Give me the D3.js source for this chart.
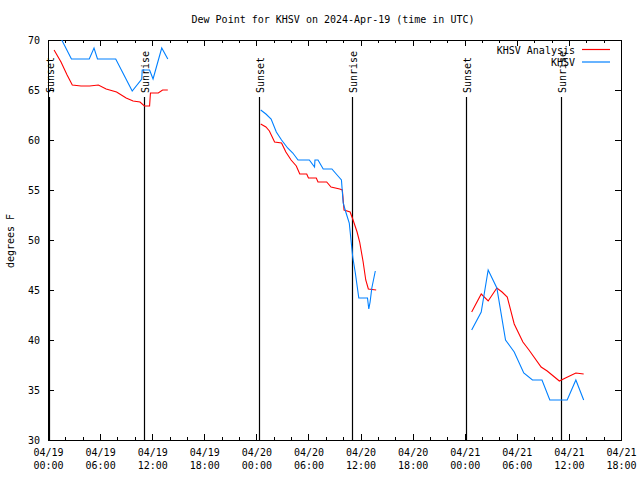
<!DOCTYPE html>
<html><head><meta charset="utf-8">
<script src="https://cdn.jsdelivr.net/npm/d3@7"></script>
<style>
body{margin:0;background:#fff;}
text{font-family:"DejaVu Sans Mono",monospace;font-size:10px;fill:#000;}
</style></head><body>
<svg id="c" width="640" height="480"></svg>
<script>
// hours since 2024-04-19 00:00 UTC
const analysisHours = [0.7,1.5,2.2,2.8,3.8,4.8,5.8,6.7,7.9,9.0,9.8,10.6,11.1,11.7,11.8,12.7,13.2,13.8,18,
  24.5,25.1,25.5,26.1,26.9,27.4,28.0,28.6,29.0,29.8,30.0,30.9,31.1,32.1,32.6,33.6,33.9,34.1,34.8,35.1,35.6,35.9,36.3,36.6,36.9,37.8,42,
  48.8,49.9,50.7,51.7,52.3,52.9,53.7,54.7,55.4,56.8,57.5,58.9,59.6,60.8,61.7];
const analysisValues = [69.0,67.8,66.5,65.5,65.4,65.4,65.5,65.1,64.8,64.2,63.9,63.8,63.4,63.4,64.7,64.7,65.0,65.0,null,
  61.6,61.3,60.9,59.8,59.7,58.8,58.0,57.4,56.6,56.6,56.2,56.2,55.8,55.8,55.3,55.1,55.0,53.0,52.8,52.1,50.8,49.8,47.8,46.0,45.1,45.0,null,
  42.8,44.6,43.9,45.2,44.8,44.3,41.6,39.8,39.0,37.3,36.9,35.9,36.2,36.7,36.6];
const obsHours = [1.0,2.7,4.75,5.3,5.7,7.8,9.7,10.8,10.85,11.7,12.1,13.1,13.8,18,
  24.5,25.1,25.7,26.3,26.9,27.6,28.2,28.8,30.1,30.7,30.75,31.1,31.7,32.7,33.3,33.8,34.0,34.3,34.7,34.9,35.1,35.4,35.8,36.8,36.95,37.1,37.3,37.7,42,
  48.8,49.9,50.7,51.7,52.7,53.7,54.8,55.8,56.9,57.8,59.8,60.8,61.7];
const obsValues = [71.0,68.1,68.1,69.2,68.1,68.1,64.9,66.1,67.0,67.0,66.1,69.2,68.1,null,
  63.0,62.6,62.1,60.8,60.0,59.2,58.7,58.0,58.0,57.3,58.0,58.0,57.1,57.1,56.5,56.0,53.7,52.8,51.7,50.0,48.3,46.7,44.2,44.2,43.1,43.8,45.2,46.9,null,
  41.0,42.8,47.0,45.2,40.0,38.8,36.7,36.0,36.0,34.0,34.0,36.0,34.0];
const sunsetHours = [0.1, 24.3, 48.2];
const sunriseHours = [11.1, 35.07, 59.1];
const yTicks = [30,35,40,45,50,55,60,65,70];
const seriesNames = ["KHSV Analysis","KHSV"];
const seriesColors = ["#ff0000","#0080ff"];
const titleText = "Dew Point for KHSV on 2024-Apr-19 (time in UTC)";

const t0 = Date.UTC(2024,3,19,0,0);
const toDate = h => new Date(t0 + h*3600e3);

const L=48,R=621,T=40,B=440;
const svg = d3.select("#c");
const x = d3.scaleUtc().domain([toDate(0), toDate(66)]).range([L,R]);
const y = d3.scaleLinear().domain([30,70]).range([B,T]);

svg.append("defs").append("clipPath").attr("id","pc").append("rect")
  .attr("x",L).attr("y",T).attr("width",R-L).attr("height",B-T);

// axes
const majorT = d3.utcHour.every(6).range(toDate(0), toDate(66.01));
const minorT = d3.utcHour.every(2).range(toDate(0), toDate(66.01));
const g = svg.append("g").attr("shape-rendering","crispEdges");
g.append("g").attr("transform",`translate(0,${B})`)
  .call(d3.axisBottom(x).tickValues(minorT).tickSize(-3).tickFormat(""))
  .call(s=>{s.select(".domain").remove();});
g.append("g").attr("transform",`translate(0,${T})`)
  .call(d3.axisTop(x).tickValues(minorT).tickSize(-3).tickFormat(""))
  .call(s=>{s.select(".domain").remove();});
g.append("g").attr("transform",`translate(0,${T})`)
  .call(d3.axisTop(x).tickValues(majorT).tickSize(-6).tickFormat(""))
  .call(s=>{s.select(".domain").remove();});
const xb = g.append("g").attr("transform",`translate(0,${B})`)
  .call(d3.axisBottom(x).tickValues(majorT).tickSize(-6).tickPadding(9).tickFormat(""));
xb.select(".domain").remove();
xb.selectAll(".tick text").each(function(d){
  const t=d3.select(this);
  t.append("tspan").attr("x",0).attr("dy","0.71em").text(d3.utcFormat("%m/%d")(d));
  t.append("tspan").attr("x",0).attr("dy","1.3em").text(d3.utcFormat("%H:%M")(d));
}).attr("dy",null);
xb.selectAll("text").attr("font-family",null).attr("font-size",null);

const yl = g.append("g").attr("transform",`translate(${L},0)`)
  .call(d3.axisLeft(y).tickValues(yTicks).tickSize(-6).tickPadding(8).tickFormat(d3.format("d")));
yl.select(".domain").remove();
yl.selectAll("text").attr("font-family",null).attr("font-size",null);
const yr = g.append("g").attr("transform",`translate(${R},0)`)
  .call(d3.axisRight(y).tickValues(yTicks).tickSize(-6).tickFormat(""));
yr.select(".domain").remove();
svg.selectAll(".tick line").attr("stroke","#000");

// frame
g.append("rect").attr("x",L).attr("y",T).attr("width",R-L).attr("height",B-T)
  .attr("fill","none").attr("stroke","#000");

// sunset / sunrise
const events = sunsetHours.map(h=>({h,lab:"Sunset"})).concat(sunriseHours.map(h=>({h,lab:"Sunrise"})));
events.forEach(e=>{
  const xx = Math.round(x(toDate(e.h)))+0.5;
  svg.append("line").attr("x1",xx).attr("x2",xx).attr("y1",97).attr("y2",B)
    .attr("stroke","#000").attr("stroke-width",1.2);
  svg.append("text").attr("transform",`translate(${xx+4},93) rotate(-90)`)
    .attr("text-anchor","start").text(e.lab);
});

// lines
const mk = (hs,vs)=>hs.map((h,i)=>({t:toDate(h),v:vs[i]}));
const line = d3.line().defined(d=>d.v!=null).x(d=>x(d.t)).y(d=>y(d.v));
const series = [mk(analysisHours,analysisValues), mk(obsHours,obsValues)];
const pg = svg.append("g").attr("clip-path","url(#pc)");
series.forEach((s,i)=>{
  pg.append("path").datum(s).attr("d",line).attr("fill","none")
    .attr("stroke",seriesColors[i]).attr("stroke-width",1.1);
});

// legend
seriesNames.forEach((n,i)=>{
  const yy = 50 + i*12.5;
  svg.append("text").attr("x",575).attr("y",yy).attr("dy","0.35em").attr("text-anchor","end").text(n);
  svg.append("line").attr("x1",582).attr("x2",610).attr("y1",yy-0.5).attr("y2",yy-0.5)
    .attr("stroke",seriesColors[i]).attr("stroke-width",1.2);
});

// title & y label
svg.append("text").attr("x",333).attr("y",23).attr("text-anchor","middle").text(titleText);
svg.append("text").attr("transform","translate(14,241) rotate(-90)").attr("text-anchor","middle").text("degrees F");
</script></body></html>
